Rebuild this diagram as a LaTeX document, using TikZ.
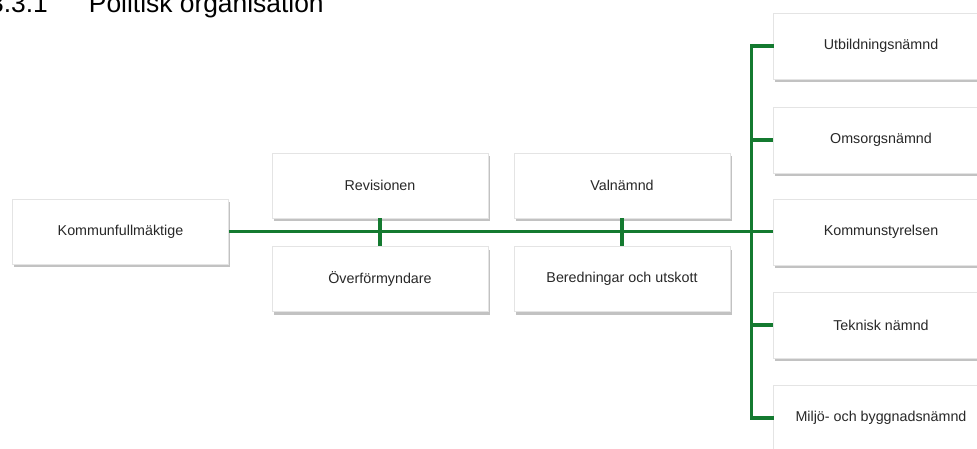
\documentclass[tikz,border=0pt]{standalone}
\usepackage{fontspec}
\setmainfont{Liberation Sans}
\usetikzlibrary{shadows}
\definecolor{lineg}{RGB}{20,122,48}
\definecolor{txt}{RGB}{40,40,40}
\definecolor{bord}{RGB}{228,228,228}
\tikzset{
  orgbox/.style={draw=bord, line width=0.6pt, fill=white, minimum width=216pt, minimum height=65pt,
    inner sep=0pt, text=txt, font=\fontsize{14.3}{16}\selectfont,
    drop shadow={shadow xshift=1.5pt, shadow yshift=-3pt, fill=black!40, opacity=0.6}},
  link/.style={draw=lineg, line width=3.4pt},
}
\begin{document}
\begin{tikzpicture}[x=1pt,y=-1pt]
\useasboundingbox (0,0) rectangle (977,448);
\clip (0,0) rectangle (977,448);
\node[anchor=base west, text=black, font=\fontsize{26.4}{30}\selectfont, inner sep=0pt] (title) at (-11,12) {3.3.1\hspace{41pt}Politisk organisation};
\node[orgbox] (kf) at (120.5,231.5) {Kommunfullmäktige};
\node[orgbox] (rev) at (380,185.5) {Revisionen};
\node[orgbox] (ovf) at (380,279) {Överförmyndare};
\node[orgbox] (val) at (622,185.5) {Valnämnd};
\node[orgbox] (ber) at (622,279) {Beredningar och utskott};
\node[orgbox, minimum height=66pt] (utb) at (881,46) {Utbildningsnämnd};
\node[orgbox, minimum height=66pt] (oms) at (881,140) {Omsorgsnämnd};
\node[orgbox, minimum height=66pt] (ks) at (881,232) {Kommunstyrelsen};
\node[orgbox, minimum height=66pt] (tek) at (881,325) {Teknisk nämnd};
\node[orgbox, minimum height=66pt] (mil) at (881,418) {Miljö- och byggnadsnämnd};
\coordinate (top) at ([xshift=-21pt]utb.west);
\coordinate (bot) at ([xshift=-21pt]mil.west);
\draw[link] (kf.east) -- (kf.east -| ks.west);
\draw[link] (rev.south) -- (ovf.north);
\draw[link] (val.south) -- (ber.north);
\draw[link, line cap=rect] (utb.west) -- (top) -- (bot) -- (mil.west);
\draw[link] (oms.west) -- (oms.west -| top);
\draw[link] (tek.west) -- (tek.west -| top);
\end{tikzpicture}
\end{document}
